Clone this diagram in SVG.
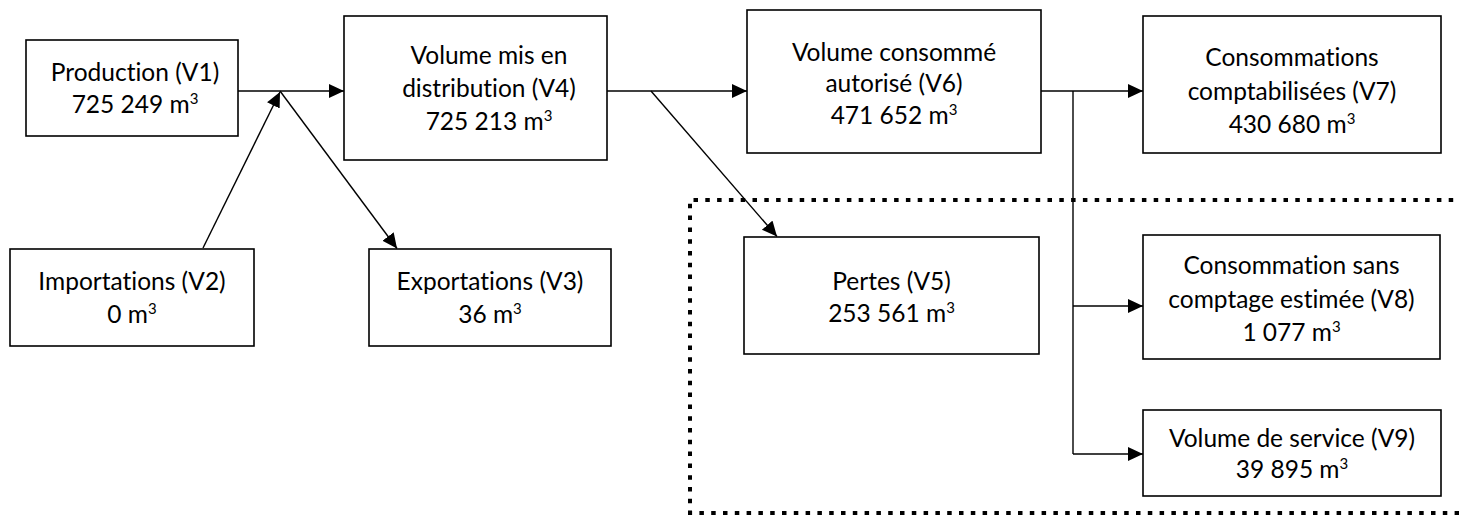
<svg xmlns="http://www.w3.org/2000/svg" width="1459" height="515" viewBox="0 0 1459 515">
<defs>
<style>
.box{fill:#fff;stroke:#000;stroke-width:1.6}
.t{font-family:Lato,"Liberation Sans",sans-serif;font-size:24.5px;fill:#000;text-anchor:middle;font-variant-ligatures:none;font-feature-settings:"liga" 0,"clig" 0}
.sup{font-size:15px}
.ln{fill:none;stroke:#000;stroke-width:1.4}
.arr{marker-end:url(#ah)}
.dash{fill:none;stroke:#000;stroke-width:4;stroke-dasharray:4.5 7.3}
</style>
<marker id="ah" markerUnits="userSpaceOnUse" markerWidth="16" markerHeight="15" refX="15" refY="7" orient="auto">
<path d="M0,0 L15,7 L0,14 Z" fill="#000"/>
</marker>
</defs>
<rect width="1459" height="515" fill="#fff"/>
<path class="dash" d="M1465,200 H690 V513 H1465"/>
<g id="connectors">
<line class="ln arr" x1="238" y1="91" x2="344" y2="91"/>
<line class="ln arr" x1="203" y1="248" x2="280" y2="92"/>
<line class="ln arr" x1="280" y1="91" x2="397" y2="248.5"/>
<line class="ln arr" x1="607" y1="91" x2="747" y2="91"/>
<line class="ln arr" x1="651" y1="91" x2="777" y2="236.5"/>
<line class="ln arr" x1="1041" y1="91" x2="1143" y2="91"/>
<polyline class="ln" points="1073,91 1073,454"/>
<line class="ln arr" x1="1073" y1="306" x2="1143" y2="306"/>
<line class="ln arr" x1="1073" y1="454" x2="1143" y2="454"/>
</g>
<g id="v1">
<rect class="box" x="26" y="40" width="212" height="96"/>
<text class="t" x="135" y="81">Production (V1)</text>
<text class="t" x="135" y="113">725 249 m<tspan class="sup" dy="-9">3</tspan></text>
</g>
<g id="v2">
<rect class="box" x="10" y="249" width="244" height="97"/>
<text class="t" x="132" y="290">Importations (V2)</text>
<text class="t" x="132" y="323">0 m<tspan class="sup" dy="-9">3</tspan></text>
</g>
<g id="v3">
<rect class="box" x="369" y="249" width="242" height="97"/>
<text class="t" x="490" y="290">Exportations (V3)</text>
<text class="t" x="490" y="323">36 m<tspan class="sup" dy="-9">3</tspan></text>
</g>
<g id="v4">
<rect class="box" x="344" y="16" width="263" height="144"/>
<text class="t" x="489" y="64">Volume mis en</text>
<text class="t" x="489" y="97">distribution (V4)</text>
<text class="t" x="489" y="130">725 213 m<tspan class="sup" dy="-9">3</tspan></text>
</g>
<g id="v6">
<rect class="box" x="747" y="10" width="294" height="143"/>
<text class="t" x="894" y="61">Volume consommé</text>
<text class="t" x="894" y="92">autorisé (V6)</text>
<text class="t" x="894" y="124">471 652 m<tspan class="sup" dy="-9">3</tspan></text>
</g>
<g id="v7">
<rect class="box" x="1143" y="16" width="298" height="137"/>
<text class="t" x="1292" y="66">Consommations</text>
<text class="t" x="1292" y="100">comptabilisées (V7)</text>
<text class="t" x="1292" y="133">430 680 m<tspan class="sup" dy="-9">3</tspan></text>
</g>
<g id="v5">
<rect class="box" x="744" y="237" width="295" height="117"/>
<text class="t" x="891.5" y="290">Pertes (V5)</text>
<text class="t" x="891.5" y="322">253 561 m<tspan class="sup" dy="-9">3</tspan></text>
</g>
<g id="v8">
<rect class="box" x="1143" y="235" width="297" height="124"/>
<text class="t" x="1291.5" y="274">Consommation sans</text>
<text class="t" x="1291.5" y="308">comptage estimée (V8)</text>
<text class="t" x="1291.5" y="341">1 077 m<tspan class="sup" dy="-9">3</tspan></text>
</g>
<g id="v9">
<rect class="box" x="1143" y="410" width="298" height="86"/>
<text class="t" x="1292" y="447">Volume de service (V9)</text>
<text class="t" x="1292" y="478">39 895 m<tspan class="sup" dy="-9">3</tspan></text>
</g>
</svg>
